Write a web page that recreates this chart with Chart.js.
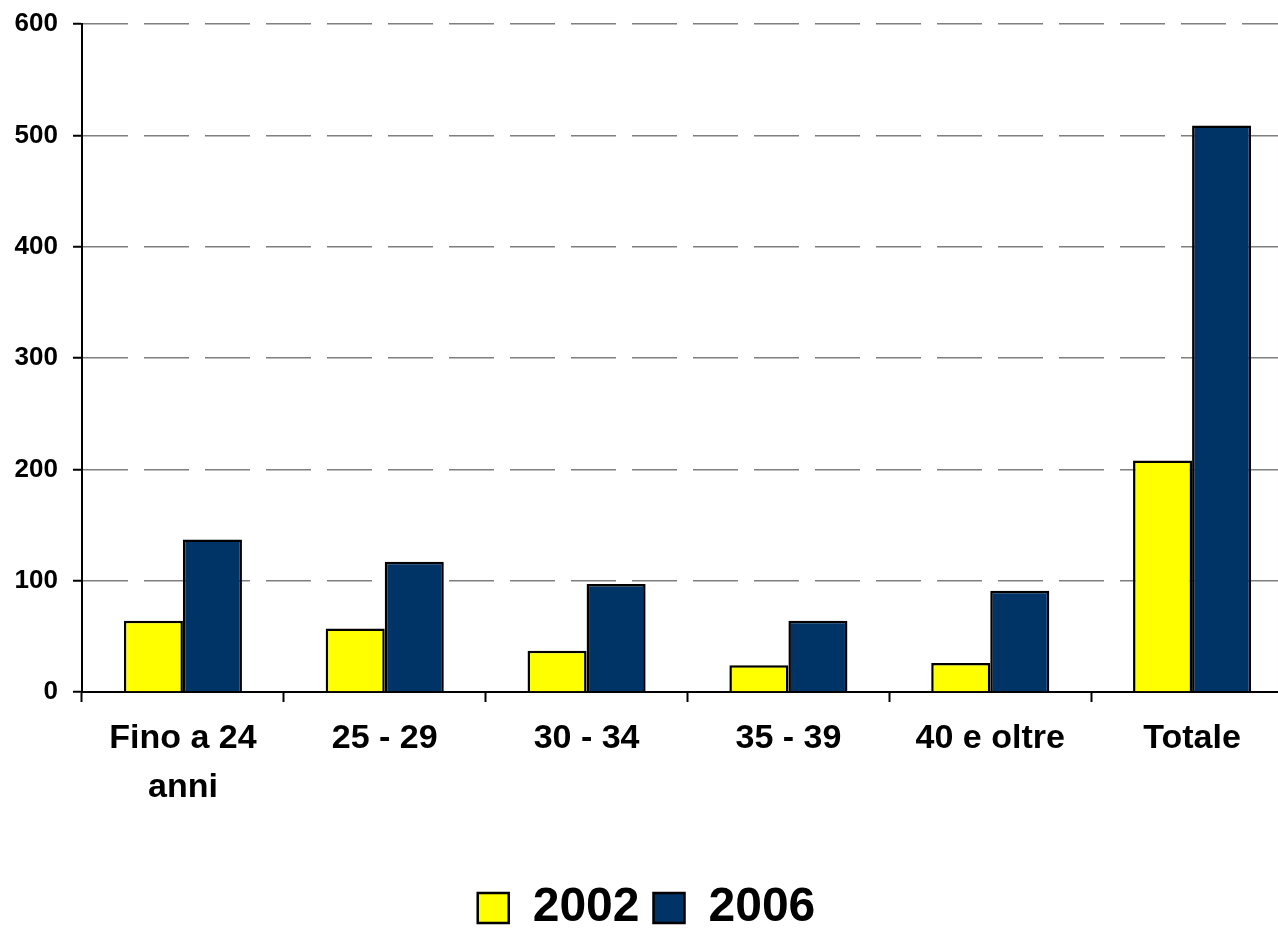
<!DOCTYPE html>
<html>
<head>
<meta charset="utf-8">
<script src="https://cdn.jsdelivr.net/npm/chart.js@4/dist/chart.umd.min.js"></script>
<style>
  html, body { margin: 0; padding: 0; background: #ffffff; overflow: hidden; }
  #wrap { width: 1278px; height: 928px; position: relative; overflow: hidden; }
  #c { position: absolute; left: 0; top: 0; }
</style>
</head>
<body>
<div id="wrap"><canvas id="c" width="1294" height="928"></canvas></div>
<script>
const categories = [["Fino a 24", "anni"], "25 - 29", "30 - 34", "35 - 39", "40 e oltre", "Totale"];
const values2002 = [64, 57, 37, 24, 26, 208];
const values2006 = [137, 117, 97, 64, 91, 509];
const yTicks = [0, 100, 200, 300, 400, 500, 600];

const FONT = '"Liberation Sans", Arial, Helvetica, sans-serif';

new Chart(document.getElementById('c'), {
  type: 'bar',
  data: {
    labels: categories,
    datasets: [
      { label: '2002', data: values2002, backgroundColor: '#FFFF00', borderColor: '#000000', borderWidth: 2.5 },
      { label: '2006', data: values2006, backgroundColor: '#003366', borderColor: '#000000', borderWidth: 2.5 }
    ]
  },
  options: {
    responsive: false,
    animation: false,
    devicePixelRatio: 1,
    layout: { padding: { top: 0, right: 1, left: 0, bottom: -14 } },
    datasets: { bar: { categoryPercentage: 0.585, barPercentage: 1.0 } },
    plugins: {
      tooltip: { enabled: false },
      legend: {
        position: 'bottom',
        labels: {
          boxWidth: 31,
          boxHeight: 30,
          padding: 14,
          color: '#000000',
          font: { family: FONT, size: 48, weight: 'bold' }
        }
      }
    },
    scales: {
      x: {
        offset: true,
        border: { display: true, color: '#000000', width: 2 },
        grid: { display: true, drawOnChartArea: false, drawTicks: true, offset: true, tickLength: 10, tickColor: '#000000', tickWidth: 2 },
        ticks: {
          color: '#000000',
          padding: 12,
          maxRotation: 0,
          autoSkip: false,
          font: { family: FONT, size: 34, weight: 'bold', lineHeight: 1.45 }
        },
        afterFit(scale) { scale.height = 178; }
      },
      y: {
        min: 0,
        max: 600,
        border: { display: true, color: '#000000', width: 2, dash: [45, 16] },
        grid: {
          color: '#7f7f7f',
          lineWidth: 1.5,
          drawTicks: true,
          tickLength: 9,
          tickColor: '#000000',
          tickWidth: 2,
          tickBorderDash: []
        },
        ticks: {
          stepSize: 100,
          color: '#000000',
          padding: 15,
          font: { family: FONT, size: 26, weight: 'bold', lineHeight: 0.7 },
          callback: (v) => yTicks.includes(v) ? String(v) : ''
        },
        afterFit(scale) { scale.width = 82; }
      }
    }
  }
});
</script>
</body>
</html>
